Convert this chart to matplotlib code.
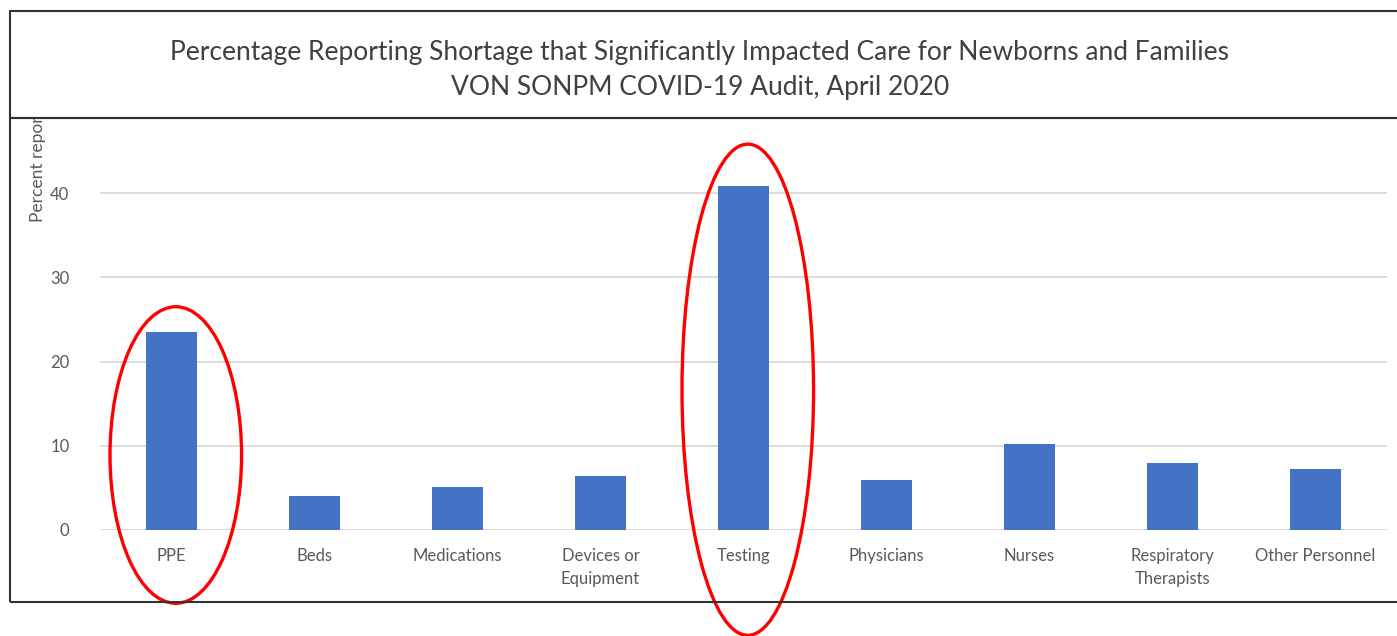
import matplotlib.pyplot as plt
from matplotlib.patches import Ellipse, Rectangle

categories = ["PPE", "Beds", "Medications", "Devices or\nEquipment", "Testing",
              "Physicians", "Nurses", "Respiratory\nTherapists", "Other Personnel"]
percent = [23.5, 4.0, 5.1, 6.4, 40.8, 5.9, 10.2, 8.0, 7.2]
yticks = [0, 10, 20, 30, 40]
circled = ["PPE", "Testing"]

title = ("Percentage Reporting Shortage that Significantly Impacted Care for Newborns and Families\n"
         "VON SONPM COVID-19 Audit, April 2020")

W, H = 1397, 636
plt.rcParams['font.family'] = ['Lato', 'DejaVu Sans']
fig = plt.figure(figsize=(W / 100, H / 100), dpi=100)

def px(x0, y0, x1, y1):
    # pixel box (top-left origin) -> figure fraction rect
    return [x0 / W, 1 - y1 / H, (x1 - x0) / W, (y1 - y0) / H]

ymax = 47
ax = fig.add_axes(px(100, 530 - ymax * 8.425, 1387, 530))
x = list(range(len(categories)))
ax.bar(x, percent, width=0.35, color="#4472C4", zorder=3)
ax.set_xlim(-0.5, len(categories) - 0.5)
ax.set_ylim(0, ymax)
ax.set_yticks(yticks)
ax.set_xticks(x)
ax.set_xticklabels(categories, fontsize=12, color="#595959", linespacing=1.55)
ax.tick_params(axis="y", labelsize=12, labelcolor="#595959", length=0, pad=22)
ax.tick_params(axis="x", length=0, pad=13)
ax.grid(axis="y", color="#D9D9D9", linewidth=1.3, zorder=0)
for s in ax.spines.values():
    s.set_visible(False)

# red rings around the highlighted bars: (top, bottom) in data units
rings = {"PPE": (26.5, -8.7), "Testing": (45.8, -12.5)}
for name in circled:
    i = categories.index(name)
    top, bottom = rings[name]
    e = Ellipse((i + 0.03, (top + bottom) / 2), 0.92, top - bottom, fill=False,
                edgecolor="#FF0000", linewidth=2.4, clip_on=False, zorder=5)
    ax.add_patch(e)

# axis label partly hidden behind the title band
fig.text(38 / W, 1 - 222 / H, "Percent reporting", rotation=90, fontsize=12.5,
         color="#595959", ha="center", va="bottom")

# outer frame and title band
fig.patches.append(Rectangle((10 / W, 1 - 118 / H), 1.0, 107 / H, transform=fig.transFigure,
                             facecolor="white", edgecolor="#333333", linewidth=1.5, zorder=10))
fig.patches.append(Rectangle((10 / W, 1 - 602 / H), 1.0, 484 / H, transform=fig.transFigure,
                             facecolor="none", edgecolor="#333333", linewidth=1.5, zorder=10))
fig.text(700 / W, 1 - 70 / H, title, ha="center", va="center", fontsize=19,
         color="#404040", linespacing=1.5, zorder=11)

fig.savefig("out.png", dpi=100)
